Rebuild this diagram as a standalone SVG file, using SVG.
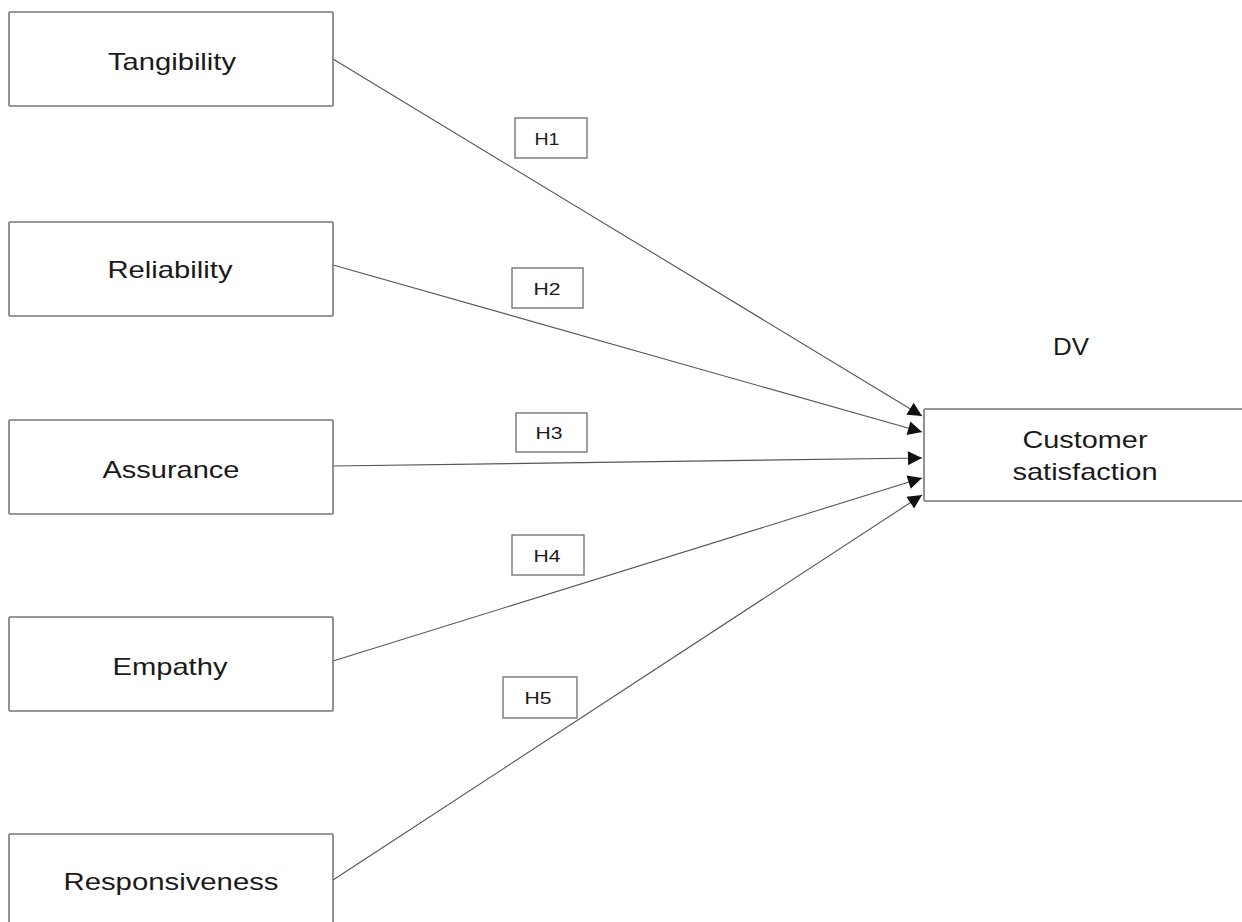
<svg xmlns="http://www.w3.org/2000/svg" width="1242" height="922" viewBox="0 0 1242 922">
<defs>
<marker id="arr" viewBox="0 0 10 10" refX="10" refY="5" markerWidth="15" markerHeight="14" markerUnits="userSpaceOnUse" orient="auto">
<path d="M0,0 L10,5 L0,10 z" fill="#111"/>
</marker>
<style>
.box{fill:#fff;stroke:#777;stroke-width:1.6}
.hb{fill:#fff;stroke:#777;stroke-width:1.4}
.t{font-family:"Liberation Sans",Arial,sans-serif;font-size:24px;fill:#1a1a1a;text-anchor:middle}
.h{font-family:"Liberation Sans",Arial,sans-serif;font-size:17px;fill:#1a1a1a;text-anchor:middle}
.c{fill:none;stroke:#555;stroke-width:1.1}
</style>
</defs>
<rect width="1242" height="922" fill="#fff"/>
<g id="connectors">
<line class="c" x1="333" y1="59" x2="922" y2="416" marker-end="url(#arr)"/>
<line class="c" x1="333" y1="265" x2="922" y2="432" marker-end="url(#arr)"/>
<line class="c" x1="333" y1="466" x2="922" y2="458" marker-end="url(#arr)"/>
<line class="c" x1="333" y1="661" x2="922" y2="478" marker-end="url(#arr)"/>
<line class="c" x1="333" y1="880" x2="922" y2="495" marker-end="url(#arr)"/>
</g>
<g id="tangibility"><rect class="box" x="9" y="12" width="324" height="94" rx="1"/><text class="t" x="172" y="70" textLength="128" lengthAdjust="spacingAndGlyphs">Tangibility</text></g>
<g id="reliability"><rect class="box" x="9" y="222" width="324" height="94" rx="1"/><text class="t" x="170" y="278" textLength="125" lengthAdjust="spacingAndGlyphs">Reliability</text></g>
<g id="assurance"><rect class="box" x="9" y="420" width="324" height="94" rx="1"/><text class="t" x="171" y="478" textLength="137" lengthAdjust="spacingAndGlyphs">Assurance</text></g>
<g id="empathy"><rect class="box" x="9" y="617" width="324" height="94" rx="1"/><text class="t" x="170" y="675" textLength="115" lengthAdjust="spacingAndGlyphs">Empathy</text></g>
<g id="responsiveness"><rect class="box" x="9" y="834" width="324" height="100" rx="1"/><text class="t" x="171" y="890" textLength="215" lengthAdjust="spacingAndGlyphs">Responsiveness</text></g>
<g id="customer"><rect class="box" x="924" y="409" width="330" height="92" rx="1"/><text class="t" x="1085" y="448" textLength="125" lengthAdjust="spacingAndGlyphs">Customer</text><text class="t" x="1085" y="480" textLength="145" lengthAdjust="spacingAndGlyphs">satisfaction</text></g>
<g id="dv"><text class="t" x="1071" y="355" textLength="36" lengthAdjust="spacingAndGlyphs">DV</text></g>
<g id="h1"><rect class="hb" x="515" y="118" width="72" height="40"/><text class="h" x="547" y="145" textLength="25" lengthAdjust="spacingAndGlyphs">H1</text></g>
<g id="h2"><rect class="hb" x="512" y="268" width="71" height="40"/><text class="h" x="547" y="295" textLength="27" lengthAdjust="spacingAndGlyphs">H2</text></g>
<g id="h3"><rect class="hb" x="516" y="413" width="71" height="39"/><text class="h" x="549" y="439" textLength="27" lengthAdjust="spacingAndGlyphs">H3</text></g>
<g id="h4"><rect class="hb" x="512" y="535" width="72" height="40"/><text class="h" x="547" y="562" textLength="27" lengthAdjust="spacingAndGlyphs">H4</text></g>
<g id="h5"><rect class="hb" x="503" y="677" width="74" height="41"/><text class="h" x="538" y="704" textLength="27" lengthAdjust="spacingAndGlyphs">H5</text></g>
</svg>
